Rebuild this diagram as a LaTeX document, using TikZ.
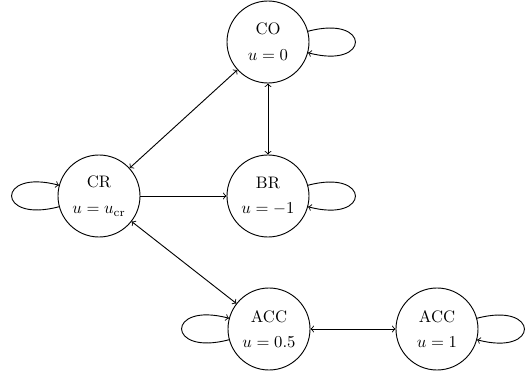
\documentclass[tikz,border=0pt]{standalone}
\begin{document}
\begin{tikzpicture}[x=0.6pt,y=-0.6pt,
  state/.style={draw,circle,minimum size=49.2pt,inner sep=0pt,align=center,line width=0.55pt},
  conn/.style={line width=0.55pt}]
\useasboundingbox (0,0) rectangle (529,371);
\node[state] (co) at (268,42) {CO\\[3.5pt]$u=0$};
\node[state] (cr) at (99,196) {CR\\[3.5pt]$u=u_{\mathrm{cr}}$};
\node[state] (br) at (268,196) {BR\\[3.5pt]$u=-1$};
\node[state] (acc1) at (269,329) {ACC\\[3.5pt]$u=0.5$};
\node[state] (acc2) at (437,329) {ACC\\[3.5pt]$u=1$};
\path[conn,->] (co) edge[loop right,looseness=7.8] (co);
\path[conn,->] (cr) edge[loop left,looseness=7.8] (cr);
\path[conn,->] (br) edge[loop right,looseness=7.8] (br);
\path[conn,->] (acc1) edge[loop left,looseness=7.8] (acc1);
\path[conn,->] (acc2) edge[loop right,looseness=7.8] (acc2);
\draw[conn,<->] (cr) -- (co);
\draw[conn,<->] (co) -- (br);
\draw[conn,->] (cr) -- (br);
\draw[conn,<->] (cr) -- (acc1);
\draw[conn,<->] (acc1) -- (acc2);
\end{tikzpicture}
\end{document}
